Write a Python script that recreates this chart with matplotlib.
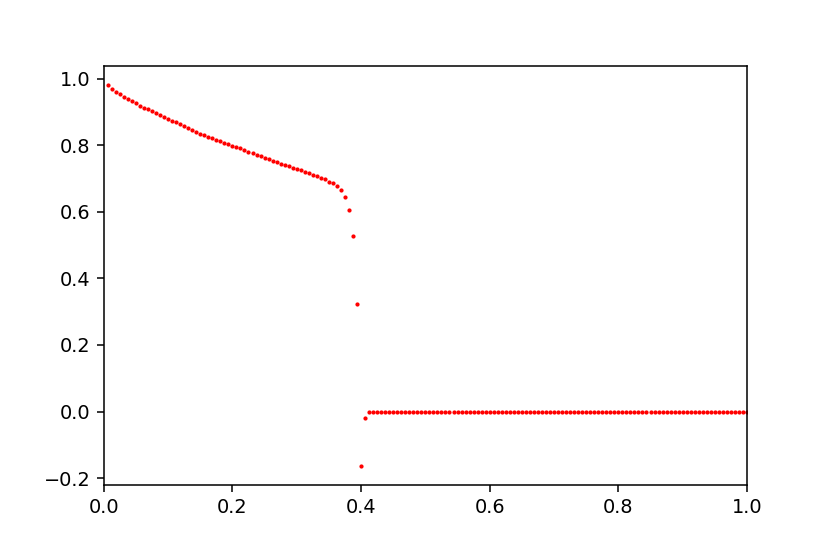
import matplotlib
matplotlib.use("Agg")
import matplotlib.pyplot as plt
import numpy as np

# sample positions: i/160 for i = 1..160
step = 1 / 160
n_points = 160

# values, first 65 samples (the rest sit at 0)
y_head = [
    0.980, 0.969, 0.960, 0.953, 0.946, 0.938, 0.932, 0.926, 0.919, 0.913,
    0.908, 0.902, 0.896, 0.890, 0.885, 0.879, 0.874, 0.869, 0.864, 0.859,
    0.852, 0.846, 0.840, 0.835, 0.831, 0.826, 0.821, 0.817, 0.812, 0.808,
    0.803, 0.799, 0.795, 0.792, 0.786, 0.781, 0.776, 0.772, 0.768, 0.762,
    0.758, 0.754, 0.749, 0.745, 0.740, 0.737, 0.733, 0.729, 0.725, 0.720,
    0.716, 0.712, 0.708, 0.703, 0.698, 0.691, 0.686, 0.677, 0.666, 0.645,
    0.607, 0.529, 0.324, -0.163, -0.021,
]
y_tail = [0.0] * (n_points - len(y_head))

x = np.arange(1, n_points + 1) * step
y = np.array(y_head + y_tail)

fig = plt.figure(figsize=(830 / 138.33, 554 / 138.33), dpi=138.33)
ax = fig.add_subplot(111)
fig.subplots_adjust(left=0.125, right=0.9, top=0.88, bottom=0.125)

ax.scatter(x, y, s=1.4, c="r")
ax.set_xlim(0, 1)

fig.savefig("out.png", dpi=138.33)
